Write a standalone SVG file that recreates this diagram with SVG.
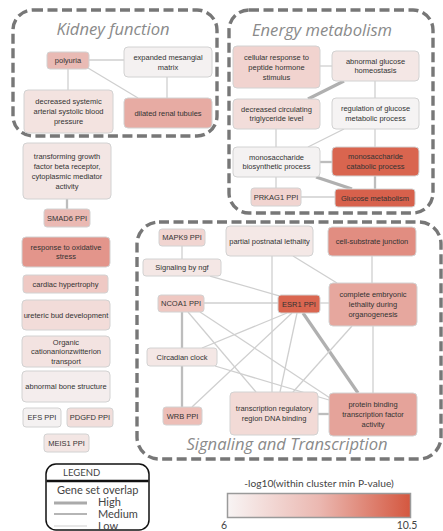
<svg xmlns="http://www.w3.org/2000/svg" width="443" height="531" viewBox="0 0 443 531">
<style>
.cl{fill:none;stroke:#777;stroke-width:3.4;stroke-dasharray:10 4.5}
.ct{font-family:"Open Sans",sans-serif;font-style:italic;font-size:16.6px;fill:#8a8a8a;text-anchor:middle}
.n rect{stroke:#d2d2d2;stroke-width:1}
.n text{font-family:"Liberation Sans",Arial,sans-serif;font-size:7.5px;fill:#333;text-anchor:middle}
.e line{stroke:#cfcfcf;stroke-width:1.3}
.e line.m{stroke:#bdbdbd;stroke-width:2.3}
.e line.h{stroke:#b0b0b0;stroke-width:3.2}
.lg{font-family:Lato,"Liberation Sans",sans-serif;fill:#444}
</style>
<defs>
<linearGradient id="grad" x1="0" y1="0" x2="1" y2="0">
<stop offset="0" stop-color="#f8f4f4"/>
<stop offset="0.5" stop-color="#ebb8b1"/>
<stop offset="1" stop-color="#d4573f"/>
</linearGradient>
</defs>
<rect width="443" height="531" fill="#ffffff"/>

<g id="clusters">
<rect class="cl" x="13" y="10" width="204" height="126" rx="20"/>
<rect class="cl" x="229" y="10" width="204" height="203" rx="20"/>
<rect class="cl" x="137" y="222" width="304" height="237" rx="22"/>
<text class="ct" x="113" y="35">Kidney function</text>
<text class="ct" x="322" y="36">Energy metabolism</text>
<text class="ct" x="287" y="450">Signaling and Transcription</text>
</g>

<g id="connectors" class="e">
<line x1="89" y1="60" x2="124" y2="60"/>
<line x1="68" y1="69" x2="68" y2="90"/>
<line x1="88" y1="68" x2="138" y2="98"/>
<line x1="167" y1="77" x2="167" y2="98"/>
<line class="m" x1="67" y1="199" x2="67" y2="209"/>

<line x1="320" y1="66" x2="332" y2="66"/>
<line class="h" x1="344" y1="81" x2="308" y2="99"/>
<line x1="375" y1="81" x2="375" y2="98"/>
<line x1="276" y1="129" x2="276" y2="147"/>
<line x1="344" y1="129" x2="308" y2="147"/>
<line x1="375" y1="129" x2="375" y2="147"/>
<line class="m" x1="320" y1="162" x2="332" y2="162"/>
<line class="h" x1="316" y1="177" x2="352" y2="189"/>
<line class="m" x1="375" y1="176" x2="375" y2="189"/>
<line x1="276" y1="177" x2="276" y2="188"/>
<line x1="301" y1="197" x2="335" y2="197"/>

<line x1="182" y1="246" x2="182" y2="259"/>
<line x1="293" y1="256" x2="337" y2="283"/>
<line x1="272" y1="256" x2="272" y2="392"/>
<line x1="372" y1="256" x2="372" y2="283"/>
<line x1="210" y1="276" x2="280" y2="296"/>
<line x1="204" y1="303" x2="278" y2="303"/>
<line x1="320" y1="303" x2="329" y2="303"/>
<line class="m" x1="182" y1="312" x2="182" y2="348"/>
<line class="m" x1="182" y1="366" x2="182" y2="407"/>
<line x1="188" y1="312" x2="256" y2="392"/>
<line x1="200" y1="312" x2="330" y2="398"/>
<line x1="287" y1="313" x2="202" y2="348"/>
<line x1="292" y1="313" x2="192" y2="407"/>
<line x1="297" y1="313" x2="280" y2="392"/>
<line class="h" x1="303" y1="313" x2="358" y2="393"/>
<line x1="352" y1="326" x2="293" y2="392"/>
<line x1="373" y1="326" x2="373" y2="393"/>
<line x1="215" y1="366" x2="329" y2="400"/>
<line class="m" x1="318" y1="414" x2="329" y2="414"/>
</g>

<g id="polyuria" class="n"><rect x="47" y="52" width="42" height="17" rx="3" fill="#e9bab4"/><text x="68" y="63.3">polyuria</text></g>
<g id="expanded-mesangial-matrix" class="n"><rect x="124" y="47" width="88" height="30" rx="4" fill="#f4f1f1"/><text x="168" y="60">expanded mesangial</text><text x="168" y="69.5">matrix</text></g>
<g id="decreased-systemic" class="n"><rect x="24" y="90" width="89" height="43" rx="4" fill="#f3e3e0"/><text x="68.5" y="104">decreased systemic</text><text x="68.5" y="114">arterial systolic blood</text><text x="68.5" y="124">pressure</text></g>
<g id="dilated-renal-tubules" class="n"><rect x="124" y="98" width="88" height="30" rx="4" fill="#e7aba3"/><text x="168" y="115.7">dilated renal tubules</text></g>

<g id="tgf-beta" class="n"><rect x="23" y="143" width="88" height="56" rx="4" fill="#f3e6e4"/><text x="67" y="159">transforming growth</text><text x="67" y="169">factor beta receptor,</text><text x="67" y="179">cytoplasmic mediator</text><text x="67" y="189">activity</text></g>
<g id="smad6" class="n"><rect x="44" y="209" width="46" height="18" rx="3" fill="#eab9b3"/><text x="67" y="220.7">SMAD6 PPI</text></g>
<g id="oxidative-stress" class="n"><rect x="22" y="237" width="88" height="30" rx="4" fill="#e3958b"/><text x="66" y="249.5">response to oxidative</text><text x="66" y="259">stress</text></g>
<g id="cardiac-hypertrophy" class="n"><rect x="23" y="275" width="85" height="18" rx="3" fill="#efc9c4"/><text x="65.5" y="286.7">cardiac hypertrophy</text></g>
<g id="ureteric-bud" class="n"><rect x="22" y="300" width="88" height="30" rx="4" fill="#f2dcd9"/><text x="66" y="317.7">ureteric bud development</text></g>
<g id="organic-transport" class="n"><rect x="22" y="336" width="88" height="31" rx="4" fill="#f3e3e1"/><text x="66" y="344.5">Organic</text><text x="66" y="354">cationanionzwitterion</text><text x="66" y="363.5">transport</text></g>
<g id="abnormal-bone" class="n"><rect x="22" y="371" width="88" height="31" rx="4" fill="#f4eded"/><text x="66" y="389.2">abnormal bone structure</text></g>
<g id="efs" class="n"><rect x="23" y="408" width="38" height="19" rx="3" fill="#f4f1f1"/><text x="42" y="420.2">EFS PPI</text></g>
<g id="pdgfd" class="n"><rect x="67" y="408" width="46" height="19" rx="3" fill="#f2dedb"/><text x="90" y="420.2">PDGFD PPI</text></g>
<g id="meis1" class="n"><rect x="44" y="434" width="45" height="18" rx="3" fill="#f3e6e4"/><text x="66.5" y="445.7">MEIS1 PPI</text></g>

<g id="cellular-response" class="n"><rect x="233" y="46" width="87" height="42" rx="4" fill="#f1d3cf"/><text x="276.5" y="59.5">cellular response to</text><text x="276.5" y="69.5">peptide hormone</text><text x="276.5" y="79.5">stimulus</text></g>
<g id="abnormal-glucose" class="n"><rect x="332" y="51" width="87" height="30" rx="4" fill="#f4e7e5"/><text x="375.5" y="63.5">abnormal glucose</text><text x="375.5" y="73">homeostasis</text></g>
<g id="decreased-triglyceride" class="n"><rect x="233" y="99" width="87" height="30" rx="4" fill="#f2ddda"/><text x="276.5" y="111.5">decreased circulating</text><text x="276.5" y="121">triglyceride level</text></g>
<g id="regulation-glucose" class="n"><rect x="332" y="98" width="87" height="31" rx="4" fill="#f5f3f3"/><text x="375.5" y="111">regulation of glucose</text><text x="375.5" y="120.5">metabolic process</text></g>
<g id="mono-biosynthetic" class="n"><rect x="233" y="147" width="87" height="30" rx="4" fill="#f4f2f2"/><text x="276.5" y="159.5">monosaccharide</text><text x="276.5" y="169">biosynthetic process</text></g>
<g id="mono-catabolic" class="n"><rect x="332" y="147" width="87" height="29" rx="4" fill="#d9654f"/><text x="375.5" y="159">monosaccharide</text><text x="375.5" y="168.5">catabolic process</text></g>
<g id="prkag1" class="n"><rect x="251" y="188" width="50" height="18" rx="3" fill="#f1d4d0"/><text x="276" y="199.7">PRKAG1 PPI</text></g>
<g id="glucose-metabolism" class="n"><rect x="335" y="189" width="80" height="18" rx="3" fill="#d7614c"/><text x="375" y="200.7">Glucose metabolism</text></g>

<g id="mapk9" class="n"><rect x="159" y="229" width="46" height="17" rx="3" fill="#f1d5d1"/><text x="182" y="240.3">MAPK9 PPI</text></g>
<g id="partial-postnatal" class="n"><rect x="226" y="226" width="87" height="30" rx="4" fill="#f4e8e6"/><text x="269.5" y="243.7">partial postnatal lethality</text></g>
<g id="cell-substrate" class="n"><rect x="328" y="227" width="88" height="29" rx="4" fill="#e18d81"/><text x="372" y="244.2">cell-substrate junction</text></g>
<g id="signaling-ngf" class="n"><rect x="143" y="259" width="78" height="17" rx="3" fill="#f4e7e5"/><text x="182" y="270.3">Signaling by ngf</text></g>
<g id="ncoa1" class="n"><rect x="158" y="295" width="46" height="17" rx="3" fill="#efc8c2"/><text x="181" y="306.3">NCOA1 PPI</text></g>
<g id="esr1" class="n"><rect x="278" y="295" width="42" height="18" rx="3" fill="#da6650"/><text x="299" y="306.7">ESR1 PPI</text></g>
<g id="complete-embryonic" class="n"><rect x="329" y="283" width="88" height="43" rx="4" fill="#e6a79e"/><text x="373" y="297">complete embryonic</text><text x="373" y="307">lethality during</text><text x="373" y="317">organogenesis</text></g>
<g id="circadian" class="n"><rect x="147" y="348" width="70" height="18" rx="3" fill="#f4e7e5"/><text x="182" y="359.7">Circadian clock</text></g>
<g id="wrb" class="n"><rect x="163" y="407" width="39" height="18" rx="3" fill="#edbeb7"/><text x="182.5" y="418.7">WRB PPI</text></g>
<g id="transcription-regulatory" class="n"><rect x="230" y="392" width="88" height="43" rx="4" fill="#f2dad6"/><text x="274" y="411">transcription regulatory</text><text x="274" y="420.5">region DNA binding</text></g>
<g id="protein-binding" class="n"><rect x="329" y="393" width="88" height="43" rx="4" fill="#e5a39a"/><text x="373" y="407">protein binding</text><text x="373" y="417">transcription factor</text><text x="373" y="427">activity</text></g>

<g id="legend">
<rect x="46" y="464" width="103" height="66" rx="10" fill="#fff" stroke="#111" stroke-width="1.5"/>
<line x1="46.5" y1="481" x2="148.5" y2="481" stroke="#111" stroke-width="2.5"/>
<text class="lg" x="63" y="476" font-size="9.5">LEGEND</text>
<text class="lg" x="57" y="494" font-size="11">Gene set overlap</text>
<line x1="54" y1="503" x2="87" y2="503" stroke="#aaa" stroke-width="3.2"/>
<text class="lg" x="98" y="505.5" font-size="11">High</text>
<line x1="54" y1="514" x2="87" y2="514" stroke="#b5b5b5" stroke-width="2"/>
<text class="lg" x="98" y="517.5" font-size="11">Medium</text>
<line x1="54" y1="526" x2="87" y2="526" stroke="#cfcfcf" stroke-width="1"/>
<text class="lg" x="98" y="529.5" font-size="11">Low</text>
</g>

<g id="colorbar">
<text class="lg" x="319" y="487" font-size="10.2" text-anchor="middle" fill="#333">-log10(within cluster min P-value)</text>
<rect x="227.5" y="493.5" width="183" height="24" fill="url(#grad)" stroke="#9a9a9a" stroke-width="1.5"/>
<text class="lg" x="224" y="529" font-size="10.5" text-anchor="middle" fill="#333">6</text>
<text class="lg" x="407" y="529" font-size="10.5" text-anchor="middle" fill="#333">10.5</text>
</g>
</svg>
